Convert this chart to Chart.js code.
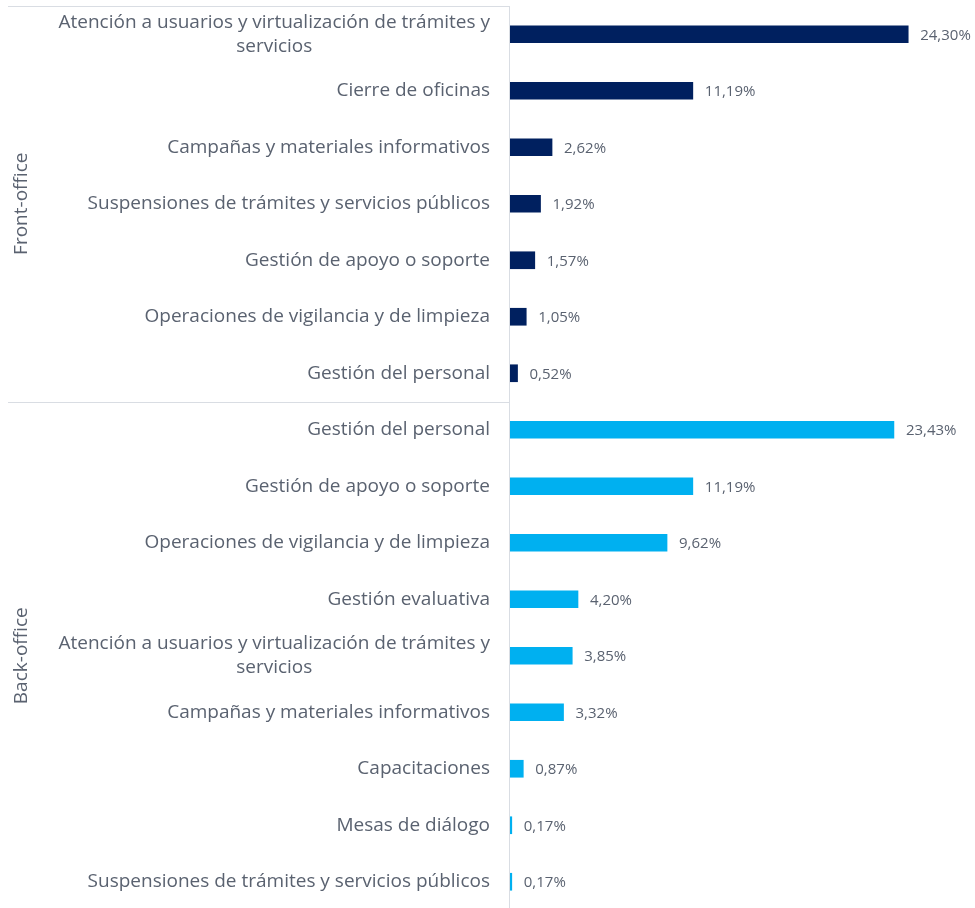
<!DOCTYPE html>
<html>
<head>
<meta charset="utf-8">
<script src="https://cdn.jsdelivr.net/npm/chart.js@4"></script>
<style>
  html, body { margin: 0; padding: 0; background: #fff; overflow: hidden; }
  #wrap { width: 975px; height: 912px; position: relative; }
</style>
</head>
<body>
<div id="wrap"><canvas id="chart"></canvas></div>
<script>
// datos
const frontLabels = [
  ['Atención a usuarios y virtualización de trámites y', 'servicios'],
  'Cierre de oficinas',
  'Campañas y materiales informativos',
  'Suspensiones de trámites y servicios públicos',
  'Gestión de apoyo o soporte',
  'Operaciones de vigilancia y de limpieza',
  'Gestión del personal'
];
const frontValues = [24.30, 11.19, 2.62, 1.92, 1.57, 1.05, 0.52];

const backLabels = [
  'Gestión del personal',
  'Gestión de apoyo o soporte',
  'Operaciones de vigilancia y de limpieza',
  'Gestión evaluativa',
  ['Atención a usuarios y virtualización de trámites y', 'servicios'],
  'Campañas y materiales informativos',
  'Capacitaciones',
  'Mesas de diálogo',
  'Suspensiones de trámites y servicios públicos'
];
const backValues = [23.43, 11.19, 9.62, 4.20, 3.85, 3.32, 0.87, 0.17, 0.17];

const groupNames = ['Front-office', 'Back-office'];

const labels = frontLabels.concat(backLabels);
const frontData = frontValues.concat(backValues.map(() => null));
const backData = frontValues.map(() => null).concat(backValues);

const textColor = '#5a6270';
const lineColor = '#d9dde3';
const labelFont = '19px "Open Sans", sans-serif';

function fmt(v) {
  return v.toFixed(2).replace('.', ',') + '%';
}

// etiquetas de categoria, valores, lineas y nombres de grupo
const decor = {
  id: 'decor',
  afterDraw(chart) {
    const ctx = chart.ctx;
    const y = chart.scales.y;
    const area = chart.chartArea;
    const left = 8;
    const nFront = frontLabels.length;
    const band = (area.bottom - area.top) / labels.length;
    const sepY = Math.round(area.top + band * nFront) + 0.5;

    ctx.save();
    ctx.strokeStyle = lineColor;
    ctx.lineWidth = 1;
    ctx.beginPath();
    ctx.moveTo(left, Math.round(area.top) + 0.5);
    ctx.lineTo(area.left, Math.round(area.top) + 0.5);
    ctx.moveTo(left, sepY);
    ctx.lineTo(area.left, sepY);
    ctx.moveTo(Math.round(area.left) + 0.5, area.top);
    ctx.lineTo(Math.round(area.left) + 0.5, chart.height);
    ctx.stroke();

    // categorias
    ctx.font = labelFont;
    ctx.fillStyle = textColor;
    ctx.textBaseline = 'middle';
    const rightEdge = area.left - 19;
    labels.forEach((lab, i) => {
      const cy = y.getPixelForValue(i);
      if (Array.isArray(lab)) {
        const w = Math.max(...lab.map(s => ctx.measureText(s).width));
        const cx = rightEdge - w / 2;
        ctx.textAlign = 'center';
        const lh = 24;
        lab.forEach((s, k) => {
          ctx.fillText(s, cx, cy + (k - (lab.length - 1) / 2) * lh);
        });
      } else {
        ctx.textAlign = 'right';
        ctx.fillText(lab, rightEdge, cy);
      }
    });

    // valores
    ctx.font = '15px "Open Sans", sans-serif';
    ctx.textAlign = 'left';
    chart.data.datasets.forEach((ds, di) => {
      const meta = chart.getDatasetMeta(di);
      ds.data.forEach((v, i) => {
        if (v === null) return;
        const bar = meta.data[i];
        ctx.fillText(fmt(v), bar.x + 12, bar.y + 1);
      });
    });

    // grupos
    ctx.font = '19px "Open Sans", sans-serif';
    ctx.textAlign = 'center';
    const groups = [[area.top, area.top + band * nFront], [area.top + band * nFront, area.bottom]];
    groups.forEach((g, k) => {
      ctx.save();
      ctx.translate(22, (g[0] + g[1]) / 2);
      ctx.rotate(-Math.PI / 2);
      ctx.fillText(groupNames[k], 0, 0);
      ctx.restore();
    });
    ctx.restore();
  }
};

new Chart(document.getElementById('chart'), {
  type: 'bar',
  data: {
    labels: labels,
    datasets: [{
      label: groupNames[0],
      data: frontData,
      backgroundColor: '#00205f',
      barThickness: 17,
      grouped: false
    }, {
      label: groupNames[1],
      data: backData,
      backgroundColor: '#00b0f0',
      barThickness: 17,
      grouped: false
    }]
  },
  options: {
    indexAxis: 'y',
    responsive: true,
    maintainAspectRatio: false,
    animation: false,
    layout: { padding: { top: 6, bottom: 2, right: 6, left: 0 } },
    plugins: {
      legend: { display: false },
      tooltip: { enabled: false }
    },
    scales: {
      x: {
        display: false,
        min: 0,
        max: 28
      },
      y: {
        ticks: { display: false },
        grid: { display: false, drawTicks: false },
        border: { display: false },
        afterFit(scale) { scale.width = 509; }
      }
    }
  },
  plugins: [decor]
});
</script>
</body>
</html>
